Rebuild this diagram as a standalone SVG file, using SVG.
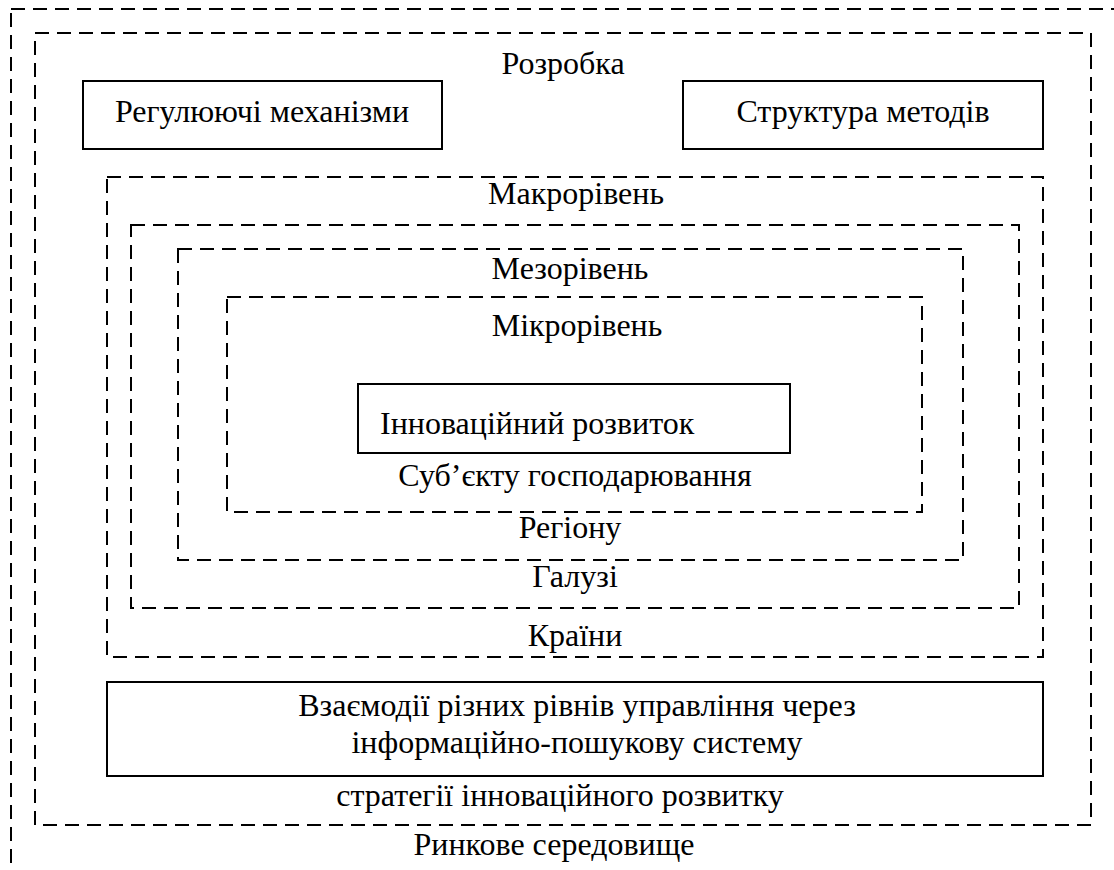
<svg xmlns="http://www.w3.org/2000/svg" width="1114" height="870" viewBox="0 0 1114 870">
  <style>
    .frame { fill: none; stroke: #000; stroke-width: 2; stroke-dasharray: 14 8; }
    .box { fill: #fff; stroke: #000; stroke-width: 2; }
    text { font-family: 'Liberation Serif', 'Times New Roman', 'DejaVu Serif', serif; font-size: 32px; fill: #000; }
    .c { text-anchor: middle; }
  </style>
  <rect width="1114" height="870" fill="#fff"/>

  <!-- market environment (runs past the page edge) -->
  <g id="market">
    <rect class="frame" x="11" y="9" width="1120" height="880"/>
    <text class="c" x="554" y="855" font-size="34">Ринкове середовище</text>
  </g>

  <!-- development of the strategy -->
  <g id="strategy">
    <rect class="frame" x="35" y="33" width="1056" height="792"/>
    <text class="c" x="563" y="74">Розробка</text>
    <text class="c" x="560" y="806">стратегії інноваційного розвитку</text>
  </g>

  <g id="regulators">
    <rect class="box" x="83" y="81" width="359" height="68"/>
    <text class="c" x="262" y="122">Регулюючі механізми</text>
  </g>

  <g id="methods">
    <rect class="box" x="683" y="81" width="360" height="68"/>
    <text class="c" x="863" y="122">Структура методів</text>
  </g>

  <!-- nested management levels -->
  <g id="macro">
    <rect class="frame" x="107" y="177" width="936" height="480"/>
    <text class="c" x="576" y="204">Макрорівень</text>
    <text class="c" x="575" y="646">Країни</text>
  </g>

  <g id="branch">
    <rect class="frame" x="131" y="225" width="888" height="383"/>
    <text class="c" x="575" y="587">Галузі</text>
  </g>

  <g id="meso">
    <rect class="frame" x="178" y="249" width="785" height="311"/>
    <text class="c" x="570" y="279">Мезорівень</text>
    <text class="c" x="570" y="538">Регіону</text>
  </g>

  <g id="micro">
    <rect class="frame" x="227" y="297" width="695" height="215"/>
    <text class="c" x="577" y="336">Мікрорівень</text>
    <text class="c" x="575" y="486">Суб’єкту господарювання</text>
  </g>

  <g id="innovation">
    <rect class="box" x="358" y="384" width="432" height="69"/>
    <text x="380" y="434">Інноваційний розвиток</text>
  </g>

  <g id="interaction">
    <rect class="box" x="107" y="682" width="936" height="94"/>
    <text class="c" x="577" y="716">Взаємодії різних рівнів управління через</text>
    <text class="c" x="577" y="753">інформаційно-пошукову систему</text>
  </g>

  <g id="connectors"/>
</svg>
